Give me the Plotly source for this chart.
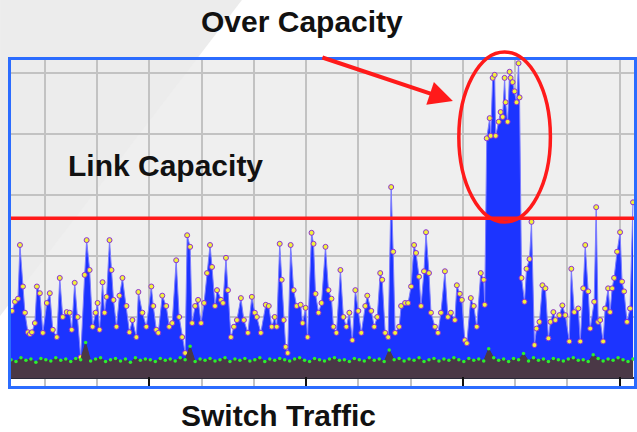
import plotly.graph_objects as go

# ---------------- data (time in samples, load in link units) ----------------
traffic_t = [0, 1, 4, 7, 9, 12, 14, 17, 19, 21, 24, 26, 29, 32, 36, 39, 42, 46, 49, 52,
             56, 59, 61, 64, 67, 70, 74, 76, 79, 82, 85, 87, 89, 92, 94, 96, 99, 101, 103, 106,
             109, 112, 116, 119, 122, 126, 128, 132, 136, 141, 143, 146, 148, 152, 156,
             159, 162, 166, 169, 172, 175, 177, 180, 182, 185, 188, 191, 194, 197, 200, 202, 205,
             207, 211, 213, 216, 218, 221, 224, 227, 231, 234, 238, 242, 245, 247, 251, 256, 259,
             262, 265, 267, 270, 272, 274, 276, 278, 281, 284, 287, 291, 293, 296, 298, 302, 304,
             306, 309, 312, 316,
             319, 322, 324, 327, 331, 334, 337, 340, 343, 346, 349, 352, 356, 358, 362, 365, 368,
             371, 373, 376, 379, 382, 384, 386, 390, 392, 396, 399, 402, 405, 407, 410, 412, 415,
             417, 420, 422, 426, 429, 432, 436, 439, 442, 446, 448, 451, 453, 456, 458, 462, 465,
             468, 472, 475, 476,
             478, 481, 482, 484, 486, 487, 490, 492, 494, 496, 497, 499, 501, 502, 504, 506, 508,
             510, 511,
             513, 516, 518, 521, 523, 526, 528, 531, 534, 537, 540, 542, 545, 547, 551, 554, 557,
             561, 563, 566, 570, 572, 575, 577, 580, 582, 586, 588, 590, 592, 595, 597, 600, 602,
             604, 606, 609, 612, 614, 616, 619, 622, 625]
traffic_v = [1.1, 1.1, 1.25, 1.3, 2.18, 1.5, 1.07, 0.75, 0.72, 0.75, 0.9, 1.5, 1.39, 0.74, 1.23,
             1.39, 0.79, 0.67, 1.64, 1.0, 1.08, 1.07, 0.79, 1.56, 1.0, 0.34, 1.69, 2.26, 1.77, 0.84,
             1.07, 1.23, 0.79, 1.57, 1.07, 1.33, 2.26, 1.77, 1.28, 0.84, 1.35, 1.64, 1.18, 0.75, 0.95,
             0.67, 1.41, 1.07, 0.84, 1.5, 1.18, 0.79, 0.74, 1.35, 1.18,
             0.84, 0.9, 1.93, 1.0, 0.67, 0.41, 2.34, 2.15, 0.9, 1.18, 1.28, 0.9, 1.23, 1.72, 2.18,
             1.82, 1.18, 1.44, 1.28, 1.23, 1.97, 1.44, 0.67, 0.84, 0.95, 1.31, 0.95, 0.74, 1.33, 1.07,
             1.0, 0.74, 1.2, 1.18, 0.84, 1.0, 0.84, 2.2, 1.61, 0.95, 0.51, 0.41, 2.18, 1.44, 1.18,
             1.2, 0.9, 1.15, 0.67, 2.38, 2.2, 1.38, 1.07, 1.23, 2.15,
             1.44, 1.3, 0.84, 0.74, 1.77, 1.0, 0.84, 1.07, 0.62, 1.44, 1.1, 0.74, 1.18, 1.35, 1.1,
             0.84, 1.0, 1.72, 1.61, 0.74, 0.67, 3.13, 2.07, 0.74, 0.84, 1.18, 1.23, 1.23, 1.5, 2.18,
             2.05, 1.66, 1.18, 1.75, 2.39, 1.72, 1.07, 0.84, 0.74, 1.07, 1.75, 1.0, 1.07, 0.95, 1.52,
             1.38, 1.28, 0.62, 0.57, 1.31, 1.18, 0.84, 1.72, 1.61, 1.2,
             3.93, 4.26, 3.97, 4.92, 4.97, 3.97, 4.2, 4.36, 4.28, 4.92, 4.52, 4.2, 5.02, 4.92, 4.85,
             4.7, 4.52, 5.16, 4.6,
             1.64, 1.25, 1.79, 1.95, 2.56, 0.54, 0.81, 0.92, 1.52, 1.47, 0.65, 0.92, 1.08, 0.95, 1.03,
             1.19, 1.03, 0.6, 1.79, 1.08, 1.14, 0.6, 1.47, 2.18, 1.42, 0.81, 1.25, 2.8, 0.92, 0.95,
             0.6, 1.14, 1.47, 1.08, 1.47, 1.64, 2.07, 2.39, 1.58, 1.42, 0.92, 1.14, 2.88]

band_t = list(range(0, 630, 5))  # background traffic sampled every 5 samples
band_v = [0.30, 0.27, 0.33, 0.29, 0.31, 0.26, 0.32, 0.30, 0.28, 0.33,
          0.29, 0.31, 0.27, 0.32, 0.30, 0.58, 0.28, 0.31, 0.33, 0.27,
          0.30, 0.32, 0.28, 0.31, 0.26, 0.33, 0.29, 0.31, 0.30, 0.27,
          0.32, 0.29, 0.31, 0.28, 0.33, 0.30, 0.52, 0.27, 0.31, 0.29,
          0.32, 0.28, 0.30, 0.33, 0.27, 0.31, 0.29, 0.32, 0.28, 0.30,
          0.33, 0.27, 0.31, 0.29, 0.32, 0.30, 0.28, 0.31, 0.33, 0.29,
          0.27, 0.32, 0.30, 0.28, 0.31, 0.33, 0.29, 0.30, 0.27, 0.32,
          0.30, 0.28, 0.33, 0.29, 0.31, 0.27, 0.46, 0.30, 0.32, 0.28,
          0.31, 0.29, 0.33, 0.27, 0.30, 0.32, 0.28, 0.31, 0.29, 0.33,
          0.30, 0.27, 0.32, 0.29, 0.31, 0.28, 0.48, 0.33, 0.29, 0.31,
          0.27, 0.32, 0.30, 0.40, 0.28, 0.33, 0.29, 0.31, 0.27, 0.32,
          0.30, 0.28, 0.31, 0.33, 0.29, 0.30, 0.27, 0.38, 0.32, 0.28,
          0.31, 0.29, 0.33, 0.30, 0.27, 0.31]

link_capacity = 2.62

title_top = "Over Capacity"
label_capacity = "Link Capacity"
title_bottom = "Switch Traffic"

# ---------------- layout helpers ----------------
W, H = 637, 432
ML, MR, MT, MB = 11, 0, 60, 46


def px(x):
    return (x - ML) / (W - ML - MR)


def py(y):
    return (H - MB - y) / (H - MT - MB)


fig = go.Figure()
fig.add_trace(go.Scatter(
    x=traffic_t, y=traffic_v, mode="lines+markers", fill="tozeroy",
    fillcolor="#1c34ff", line=dict(color="#7c7cff", width=1),
    marker=dict(size=5, color="#f2f23a", line=dict(color="#8b2fd6", width=1)),
    hoverinfo="skip", showlegend=False))
fig.add_trace(go.Scatter(
    x=band_t, y=band_v, mode="lines+markers", fill="tozeroy",
    fillcolor="#4a3846", line=dict(color="#4a3846", width=1),
    marker=dict(size=3.5, color="#2cf02c"),
    hoverinfo="skip", showlegend=False))

font_b = dict(family="Liberation Sans, Arial, sans-serif", size=30, color="#111111", weight="bold")

fig.update_layout(
    width=W, height=H, autosize=False,
    margin=dict(l=ML, r=MR, t=MT, b=MB),
    paper_bgcolor="white", plot_bgcolor="#efefef",
    xaxis=dict(range=[0, 626], showticklabels=False, showgrid=True, gridcolor="#c2c2c2",
               gridwidth=1.5, tick0=139, dtick=157.5, ticks="inside", ticklen=9, tickwidth=2,
               tickcolor="#111111", showline=True, linecolor="#2b6cff", linewidth=3,
               mirror=True, zeroline=False,
               minor=dict(tick0=34, dtick=52.5, showgrid=True, gridcolor="#c2c2c2",
                          gridwidth=1.5, ticks="")),
    yaxis=dict(range=[-8 / 61, 318 / 61], showticklabels=False, showgrid=True,
               gridcolor="#c2c2c2", gridwidth=1.5, tick0=0, dtick=1, ticks="",
               showline=True, linecolor="#2b6cff", linewidth=3, mirror=True,
               zeroline=True, zerolinecolor="#2a2a3a", zerolinewidth=2),
    shapes=[
        dict(type="path", xref="paper", yref="paper",
             path=f"M {px(0)},{py(0)} L {px(243)},{py(0)} L {px(0)},{py(316)} Z",
             fillcolor="#ececec", line=dict(width=0), layer="below"),
        dict(type="rect", xref="paper", yref="y", x0=0, x1=1, y0=-8 / 61, y1=0,
             fillcolor="white", line=dict(width=0), layer="between"),
        dict(type="line", xref="paper", yref="y", x0=0, x1=1, y0=link_capacity,
             y1=link_capacity, line=dict(color="#ff1a1a", width=3.5)),
        dict(type="circle", xref="paper", yref="paper", x0=px(461), x1=px(553),
             y0=py(222), y1=py(52), line=dict(color="#ff1a1a", width=3.5)),
    ],
    annotations=[
        dict(text="", xref="paper", yref="paper", x=px(455), y=py(101), showarrow=True,
             ax=-132, ay=-44, arrowhead=2, arrowsize=1.2, arrowwidth=4, arrowcolor="#ff1a1a"),
        dict(text=title_top, xref="paper", yref="paper", x=px(303), y=py(21),
             showarrow=False, xanchor="center", yanchor="middle", font=font_b),
        dict(text=label_capacity, xref="paper", yref="paper", x=px(166), y=py(165),
             showarrow=False, xanchor="center", yanchor="middle", font=font_b),
        dict(text=title_bottom, xref="paper", yref="paper", x=px(280), y=py(415),
             showarrow=False, xanchor="center", yanchor="middle", font=font_b),
    ],
)

fig.write_html(
    "out.html",
    config={"responsive": False, "displayModeBar": False},
    post_script=("document.body.style.margin='0';document.body.style.padding='0';"
                 "document.body.style.overflow='hidden';"),
)
